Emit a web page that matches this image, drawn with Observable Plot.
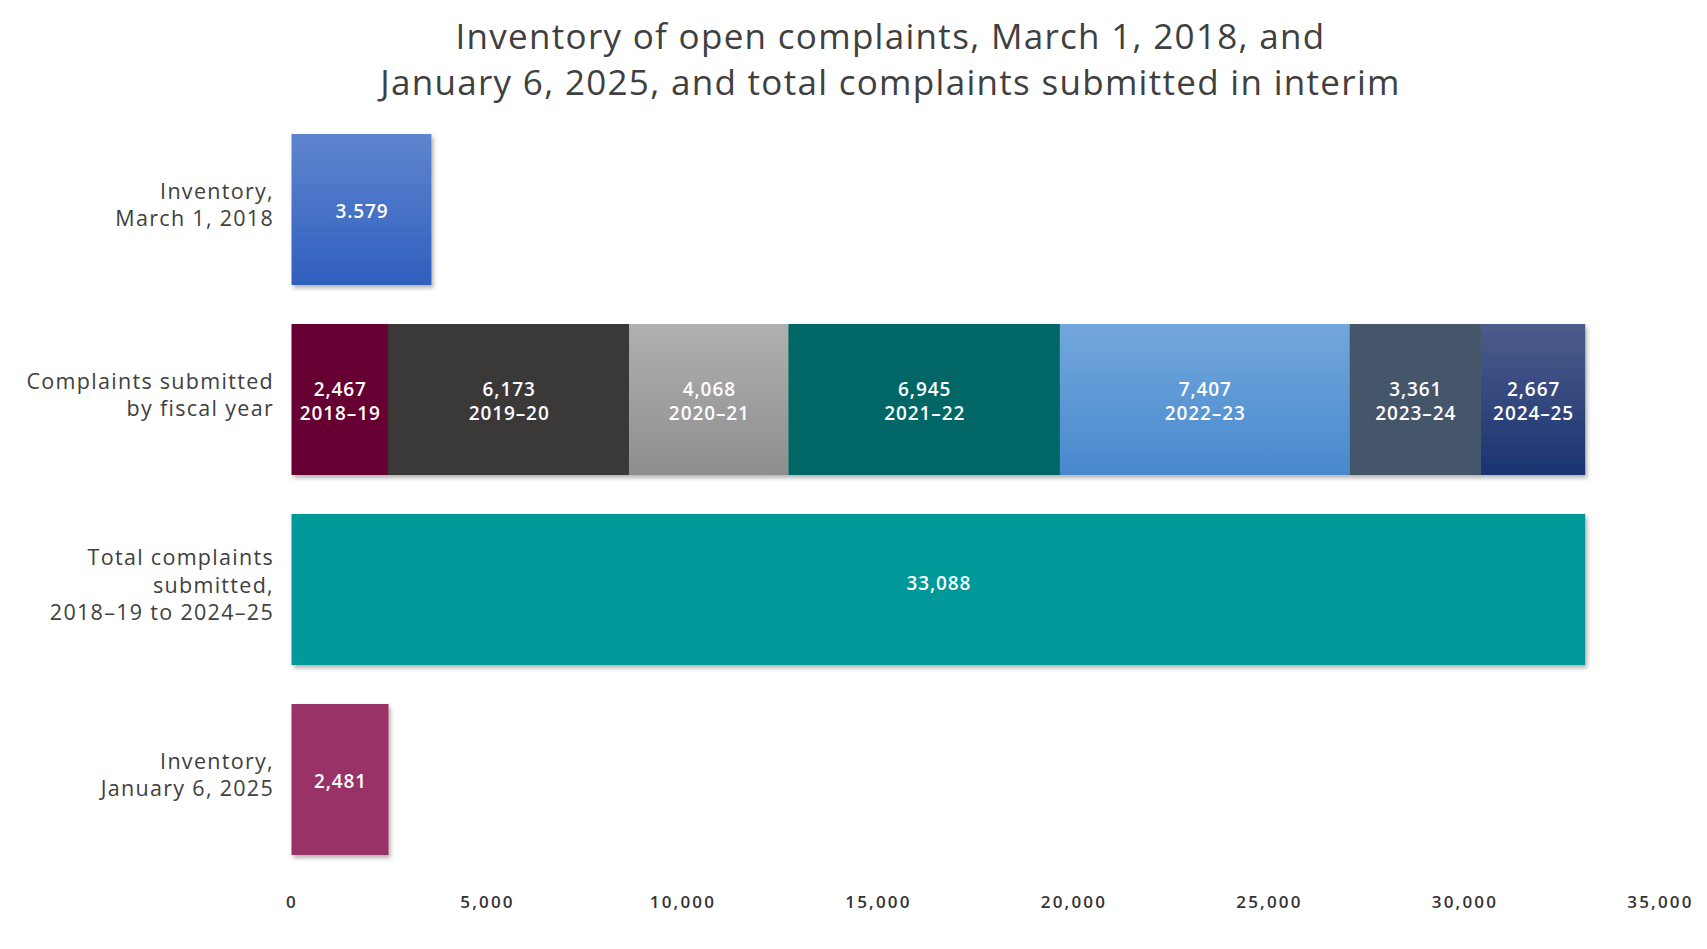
<!DOCTYPE html>
<html>
<head>
<meta charset="utf-8">
<script src="https://cdn.jsdelivr.net/npm/d3@7"></script>
<script src="https://cdn.jsdelivr.net/npm/@observablehq/plot@0.6"></script>
<style>
  html, body { margin: 0; padding: 0; background: #fff; }
  #title {
    width: 1707px; height: 110px; box-sizing: border-box;
    text-align: center; font-family: "Open Sans", Lato, sans-serif;
    font-size: 35px; line-height: 46px; color: #404040; padding-top: 13px;
    padding-left: 74px; letter-spacing: 1.3px; font-weight: 500;
  }
  #chart svg { display: block; }
</style>
</head>
<body>
<div id="title">Inventory of open complaints, March 1, 2018, and<br>January 6, 2025, and total complaints submitted in interim</div>
<div id="chart"></div>
<script>
const categories = [
  "Inventory,\nMarch 1, 2018",
  "Complaints submitted\nby fiscal year",
  "Total complaints\nsubmitted,\n2018–19 to 2024–25",
  "Inventory,\nJanuary 6, 2025"
];
const fiscalYears = ["2018–19", "2019–20", "2020–21", "2021–22", "2022–23", "2023–24", "2024–25"];
const fiscalValues = [2467, 6173, 4068, 6945, 7407, 3361, 2667];
const inventory2018 = 3579;
const inventory2018Label = "3.579";
const totalSubmitted = 33088;
const inventory2025 = 2481;
const xTicks = [0, 5000, 10000, 15000, 20000, 25000, 30000, 35000];

const segmentKeys = ["inv2018", ...fiscalYears, "total", "inv2025"];
const segmentColors = [
  "url(#gInv)", "#660033", "#3a3838", "url(#gGray)", "#006666",
  "url(#gLightBlue)", "#44546a", "url(#gNavy)", "#009999", "#993366"
];

const fmt = d3.format(",");
const rows = [
  {cat: categories[0], key: "inv2018", value: inventory2018, label: inventory2018Label},
  ...fiscalYears.map((fy, i) => ({cat: categories[1], key: fy, value: fiscalValues[i], label: fmt(fiscalValues[i]) + "\n" + fy})),
  {cat: categories[2], key: "total", value: totalSubmitted, label: fmt(totalSubmitted)},
  {cat: categories[3], key: "inv2025", value: inventory2025, label: fmt(inventory2025)}
];
const totalRows = rows.filter(d => d.key === "total");
const otherRows = rows.filter(d => d.key !== "total");

const font = "'Open Sans', Lato, sans-serif";
const chart = Plot.plot({
  width: 1707,
  height: 839,
  marginLeft: 291.5,
  marginRight: 47,
  marginTop: 3.25,
  marginBottom: 73.75,
  style: {fontFamily: font, background: "#fff"},
  x: {domain: [0, 35000], ticks: xTicks, tickFormat: fmt, label: null},
  y: {domain: categories, paddingInner: 0.207, paddingOuter: 0.1035, label: null},
  color: {domain: segmentKeys, range: segmentColors},
  marks: [
    Plot.barX(rows, Plot.stackX({x: "value", y: "cat", fill: "key", order: null, className: "bars"})),
    Plot.text(otherRows, Plot.stackX({
      x: "value", y: "cat", text: "label", order: null,
      fill: "white", fontWeight: 600, fontSize: 19, lineHeight: 1.3, className: "vlabels"
    })),
    Plot.text(totalRows, Plot.stackX({
      x: "value", y: "cat", text: "label", order: null, dy: -6,
      fill: "white", fontWeight: 600, fontSize: 19, className: "vlabels"
    })),
    Plot.axisY({tickSize: 0, tickPadding: 18, fontSize: 21.5, lineHeight: 1.27, dy: -6, fill: "#404040", textAnchor: "end", className: "ylabels"}),
    Plot.axisX({ticks: xTicks, tickFormat: fmt, tickSize: 0, tickPadding: 20, fontSize: 17, fontWeight: 600, fill: "#333", className: "xlabels"})
  ]
});

const svg = d3.select(chart);
const defs = svg.insert("defs", ":first-child");
const filt = defs.append("filter").attr("id", "shadow").attr("x", "-5%").attr("y", "-5%").attr("width", "115%").attr("height", "120%");
filt.append("feDropShadow").attr("dx", 2).attr("dy", 3).attr("stdDeviation", 2).attr("flood-color", "#000").attr("flood-opacity", 0.3);
function grad(id, top, bottom) {
  const g = defs.append("linearGradient").attr("id", id).attr("x1", 0).attr("y1", 0).attr("x2", 0).attr("y2", 1);
  g.append("stop").attr("offset", "0%").attr("stop-color", top);
  g.append("stop").attr("offset", "100%").attr("stop-color", bottom);
}
grad("gInv", "#5f85d0", "#2f5fbd");
grad("gGray", "#b0b0b0", "#8e8e8e");
grad("gLightBlue", "#72a7dd", "#4889cd");
grad("gNavy", "#4d5c8c", "#1a3471");
svg.selectAll("g.bars").attr("filter", "url(#shadow)");
svg.selectAll("g.ylabels text").style("letter-spacing", "1.3px");
svg.selectAll("g.vlabels text").style("letter-spacing", "0.9px");
svg.selectAll("g.xlabels text").style("letter-spacing", "2.2px");

document.getElementById("chart").appendChild(chart);
</script>
</body>
</html>
